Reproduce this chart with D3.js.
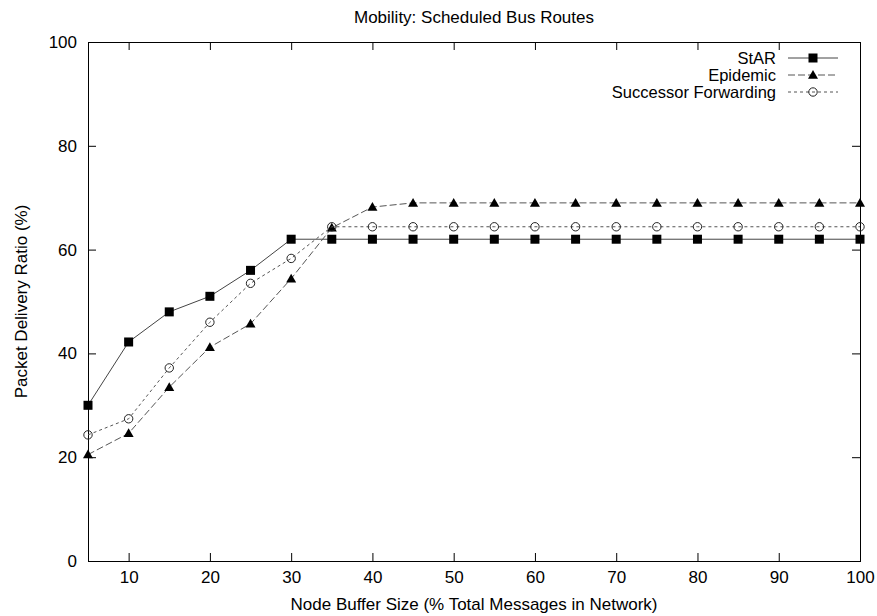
<!DOCTYPE html>
<html>
<head>
<meta charset="utf-8">
<script src="https://cdn.jsdelivr.net/npm/d3@7"></script>
<style>
  html, body { margin: 0; padding: 0; background: #fff; }
  svg { display: block; }
  text { font-family: "Liberation Sans", Arial, Helvetica, sans-serif; fill: #000; }
</style>
</head>
<body>
<script>
// Buffer sizes (% of total messages in the network)
const bufferSizes = [5, 10, 15, 20, 25, 30, 35, 40, 45, 50, 55, 60, 65, 70, 75, 80, 85, 90, 95, 100];

// Packet delivery ratio (%) per protocol
const starValues      = [30, 42.2, 48, 51, 56, 62, 62, 62, 62, 62, 62, 62, 62, 62, 62, 62, 62, 62, 62, 62];
const epidemicValues  = [20.5, 24.6, 33.5, 41.2, 45.7, 54.4, 64.2, 68.2, 69, 69, 69, 69, 69, 69, 69, 69, 69, 69, 69, 69];
const successorValues = [24.3, 27.4, 37.2, 46, 53.5, 58.3, 64.4, 64.4, 64.4, 64.4, 64.4, 64.4, 64.4, 64.4, 64.4, 64.4, 64.4, 64.4, 64.4, 64.4];

const seriesNames = ["StAR", "Epidemic", "Successor Forwarding"];
const xTickValues = [10, 20, 30, 40, 50, 60, 70, 80, 90, 100];
const yTickValues = [0, 20, 40, 60, 80, 100];

const W = 877, H = 616;
const margin = { left: 88, right: 17, top: 42, bottom: 55 };
const fontSize = 17;

const svg = d3.select("body").append("svg").attr("width", W).attr("height", H);

const x = d3.scaleLinear().domain([5, 100]).range([margin.left, W - margin.right]);
const y = d3.scaleLinear().domain([0, 100]).range([H - margin.bottom, margin.top]);

const plotL = x.range()[0], plotR = x.range()[1];
const plotT = y.range()[1], plotB = y.range()[0];
const tickLen = 8;

// Axes: ticks point inward, mirrored on the opposite side
const gx = svg.append("g").attr("transform", `translate(0,${plotB})`)
  .call(d3.axisBottom(x).tickValues(xTickValues).tickSizeInner(-tickLen).tickSizeOuter(0).tickPadding(10));
const gxTop = svg.append("g").attr("transform", `translate(0,${plotT})`)
  .call(d3.axisTop(x).tickValues(xTickValues).tickSizeInner(-tickLen).tickSizeOuter(0).tickFormat(""));
const gy = svg.append("g").attr("transform", `translate(${plotL},0)`)
  .call(d3.axisLeft(y).tickValues(yTickValues).tickSizeInner(-tickLen).tickSizeOuter(0).tickPadding(11));
const gyRight = svg.append("g").attr("transform", `translate(${plotR},0)`)
  .call(d3.axisRight(y).tickValues(yTickValues).tickSizeInner(-tickLen).tickSizeOuter(0).tickFormat(""));

[gx, gxTop, gy, gyRight].forEach(g => {
  g.select(".domain").remove();
  g.selectAll(".tick line").attr("stroke", "#000").attr("stroke-width", 1);
  g.selectAll(".tick text").attr("font-size", fontSize).attr("font-family", "Liberation Sans, Arial, sans-serif").attr("fill", "#000");
});

// Plot border
svg.append("rect")
  .attr("x", plotL + 0.5).attr("y", plotT + 0.5)
  .attr("width", plotR - plotL).attr("height", plotB - plotT)
  .attr("fill", "none").attr("stroke", "#000").attr("stroke-width", 1);

// Series definitions
const series = [
  { name: seriesNames[0], values: starValues,      dash: null,  stroke: "#444", marker: "square" },
  { name: seriesNames[1], values: epidemicValues,  dash: "7,3", stroke: "#555", marker: "triangle" },
  { name: seriesNames[2], values: successorValues, dash: "3,3", stroke: "#555", marker: "circle" }
];

const line = d3.line().x(d => x(d[0])).y(d => y(d[1]));

function drawMarker(g, kind, cx, cy) {
  if (kind === "square") {
    g.append("rect").attr("x", cx - 4.5).attr("y", cy - 4.5).attr("width", 9).attr("height", 9).attr("fill", "#000");
  } else if (kind === "triangle") {
    const s = 5;
    g.append("path")
      .attr("d", `M${cx},${cy - s} L${cx + s},${cy + s * 0.75} L${cx - s},${cy + s * 0.75} Z`)
      .attr("fill", "#000");
  } else {
    g.append("circle").attr("cx", cx).attr("cy", cy).attr("r", 4.2)
      .attr("fill", "none").attr("stroke", "#222").attr("stroke-width", 1);
  }
}

series.forEach(s => {
  const pts = bufferSizes.map((b, i) => [b, s.values[i]]);
  svg.append("path").datum(pts)
    .attr("d", line)
    .attr("fill", "none")
    .attr("stroke", s.stroke)
    .attr("stroke-width", 1)
    .attr("stroke-dasharray", s.dash);
  const mg = svg.append("g");
  pts.forEach(p => drawMarker(mg, s.marker, x(p[0]), y(p[1])));
});

// Legend (top right, inside the plot)
const legendTextX = 776, legendLineX0 = 788, legendLineX1 = 838;
const legendY0 = 58, legendDY = 17;
series.forEach((s, i) => {
  const ly = legendY0 + i * legendDY;
  svg.append("text")
    .attr("x", legendTextX).attr("y", ly)
    .attr("dy", "0.35em")
    .attr("text-anchor", "end")
    .attr("font-size", fontSize - 0.5)
    .text(s.name);
  svg.append("line")
    .attr("x1", legendLineX0).attr("x2", legendLineX1)
    .attr("y1", ly).attr("y2", ly)
    .attr("stroke", s.stroke).attr("stroke-width", 1)
    .attr("stroke-dasharray", s.dash);
  drawMarker(svg.append("g"), s.marker, (legendLineX0 + legendLineX1) / 2, ly);
});

// Title and axis labels
svg.append("text")
  .attr("x", (plotL + plotR) / 2).attr("y", 23)
  .attr("text-anchor", "middle").attr("font-size", fontSize)
  .text("Mobility: Scheduled Bus Routes");

svg.append("text")
  .attr("x", (plotL + plotR) / 2).attr("y", 610)
  .attr("text-anchor", "middle").attr("font-size", fontSize)
  .text("Node Buffer Size (% Total Messages in Network)");

svg.append("text")
  .attr("transform", `translate(21,${(plotT + plotB) / 2}) rotate(-90)`)
  .attr("text-anchor", "middle").attr("dy", "0.35em").attr("font-size", fontSize)
  .text("Packet Delivery Ratio (%)");
</script>
</body>
</html>
